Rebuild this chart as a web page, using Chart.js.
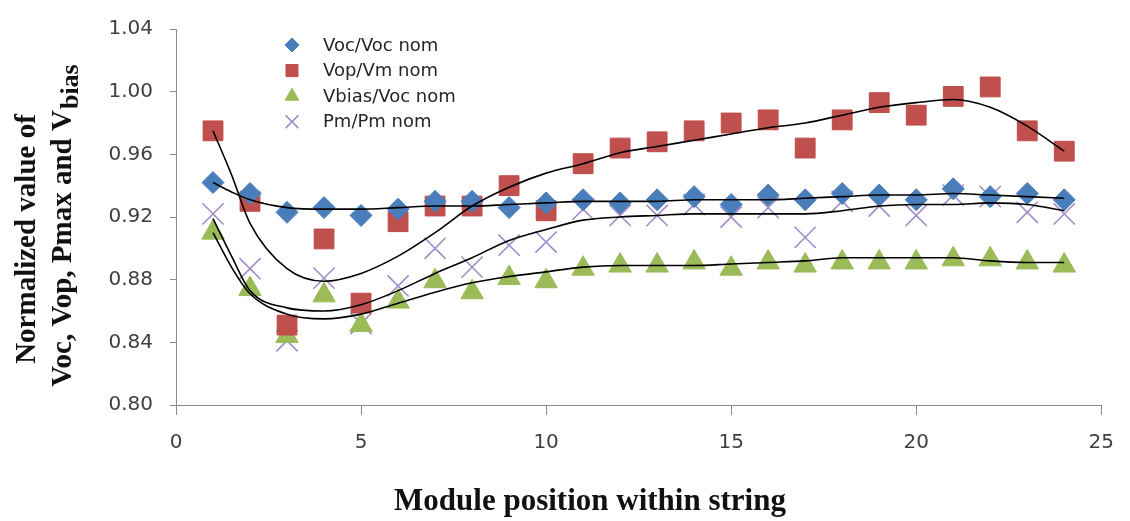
<!DOCTYPE html>
<html>
<head>
<meta charset="utf-8">
<title>Module position within string</title>
<script src="https://cdn.jsdelivr.net/npm/chart.js@4/dist/chart.umd.min.js"></script>
<style>
  html, body { margin: 0; padding: 0; background: #fff; }
  #wrap { width: 1130px; height: 521px; }
</style>
</head>
<body>
<div id="wrap"><canvas id="moduleChart" width="1130" height="521"></canvas></div>
<script>
// module position in the string
const modulePos = [1, 2, 3, 4, 5, 6, 7, 8, 9, 10, 11, 12, 13, 14, 15, 16, 17, 18, 19, 20, 21, 22, 23, 24];

// normalized measurements per module
const vocNorm   = [0.942, 0.935, 0.923, 0.926, 0.921, 0.925, 0.930, 0.930, 0.926, 0.929, 0.931, 0.929, 0.931, 0.933, 0.928, 0.934, 0.931, 0.935, 0.934, 0.931, 0.938, 0.933, 0.935, 0.931];
const vopNorm   = [0.975, 0.930, 0.851, 0.906, 0.865, 0.917, 0.927, 0.927, 0.940, 0.924, 0.954, 0.964, 0.968, 0.975, 0.980, 0.982, 0.964, 0.982, 0.993, 0.985, 0.997, 1.003, 0.975, 0.962];
const vbiasNorm = [0.910, 0.874, 0.844, 0.870, 0.851, 0.866, 0.879, 0.872, 0.881, 0.879, 0.887, 0.889, 0.889, 0.891, 0.887, 0.891, 0.889, 0.891, 0.891, 0.891, 0.893, 0.893, 0.891, 0.889];
const pmNorm    = [0.922, 0.887, 0.841, 0.881, 0.852, 0.876, 0.900, 0.888, 0.902, 0.904, 0.925, 0.921, 0.921, 0.928, 0.920, 0.926, 0.907, 0.930, 0.927, 0.921, 0.934, 0.933, 0.923, 0.922];

// polynomial trend lines
const fitPos   = [1, 1.5, 2, 3, 4, 5, 6, 7, 8, 9, 10, 11, 12, 13, 14, 15, 16, 17, 18, 19, 20, 21, 22, 23, 24];
const vocFit   = [0.942, 0.936, 0.931, 0.926, 0.925, 0.925, 0.926, 0.927, 0.927, 0.928, 0.929, 0.930, 0.930, 0.930, 0.931, 0.931, 0.931, 0.932, 0.933, 0.934, 0.934, 0.935, 0.934, 0.933, 0.932];
const vopFit   = [0.975, 0.947, 0.916, 0.887, 0.879, 0.884, 0.895, 0.910, 0.927, 0.939, 0.948, 0.954, 0.961, 0.965, 0.969, 0.973, 0.977, 0.980, 0.985, 0.990, 0.993, 0.995, 0.990, 0.978, 0.962];
const vbiasFit = [0.910, 0.888, 0.871, 0.858, 0.855, 0.858, 0.865, 0.872, 0.878, 0.882, 0.885, 0.888, 0.889, 0.889, 0.889, 0.890, 0.891, 0.892, 0.894, 0.894, 0.894, 0.894, 0.892, 0.891, 0.891];
const pmFit    = [0.919, 0.895, 0.873, 0.862, 0.860, 0.864, 0.873, 0.884, 0.894, 0.905, 0.912, 0.918, 0.920, 0.921, 0.922, 0.922, 0.922, 0.922, 0.924, 0.927, 0.928, 0.928, 0.929, 0.928, 0.924];

const xTicks = [0, 5, 10, 15, 20, 25];
const yTicks = [0.80, 0.84, 0.88, 0.92, 0.96, 1.00, 1.04];

const seriesNames = ['Voc/Voc nom', 'Vop/Vm nom', 'Vbias/Voc nom', 'Pm/Pm nom'];
const xTitle = 'Module position within string';
const yTitle1 = 'Normalized value of';
const yTitle2 = 'Voc, Vop, Pmax and V';
const yTitleSub = 'bias';

function pts(xs, ys) {
    return xs.map((x, i) => ({ x: x, y: ys[i] }));
}

function fitLine(ys) {
    return {
        data: pts(fitPos, ys),
        showLine: true,
        borderColor: '#000',
        borderWidth: 1.6,
        pointRadius: 0,
        cubicInterpolationMode: 'monotone',
        isFit: true
    };
}

// trend lines come first so they are painted over the markers
var datasets = [
    fitLine(vocFit),
    fitLine(vopFit),
    fitLine(vbiasFit),
    fitLine(pmFit),
    {
        label: seriesNames[0],
        data: pts(modulePos, vocNorm),
        pointStyle: 'rectRot',
        pointRadius: 11,
        backgroundColor: '#4A7EBB',
        borderColor: '#4A7EBB',
        borderWidth: 1,
        legendRadius: 7
    },
    {
        label: seriesNames[1],
        data: pts(modulePos, vopNorm),
        pointStyle: 'rect',
        pointRadius: 14,
        backgroundColor: '#C0504D',
        borderColor: '#BE4B48',
        borderWidth: 1,
        legendRadius: 8.5
    },
    {
        label: seriesNames[2],
        data: pts(modulePos, vbiasNorm),
        pointStyle: 'triangle',
        pointRadius: 13,
        backgroundColor: '#9BBB59',
        borderColor: '#9BBB59',
        borderWidth: 1,
        legendRadius: 8
    },
    {
        label: seriesNames[3],
        data: pts(modulePos, pmNorm),
        pointStyle: 'crossRot',
        pointRadius: 15,
        backgroundColor: '#A08CC8',
        borderColor: '#A08CC8',
        borderWidth: 1.6,
        legendRadius: 9
    }
];

// legend in the upper left of the plot
const legendPlugin = {
    id: 'cornerLegend',
    afterDraw(chart) {
        const ctx = chart.ctx;
        ctx.save();
        ctx.font = '18px "DejaVu Sans"';
        ctx.textBaseline = 'middle';
        ctx.textAlign = 'left';
        var row = 0;
        chart.data.datasets.forEach(ds => {
            if (ds.isFit) return;
            var y = 45 + row * 25.6;
            ctx.fillStyle = ds.backgroundColor;
            ctx.strokeStyle = ds.borderColor;
            ctx.lineWidth = ds.borderWidth;
            Chart.helpers.drawPoint(ctx, {
                pointStyle: ds.pointStyle,
                radius: ds.legendRadius,
                rotation: 0,
                borderWidth: ds.borderWidth
            }, 292, y);
            ctx.fillStyle = '#262626';
            ctx.fillText(ds.label, 323, y + 1);
            row++;
        });
        ctx.restore();
    }
};

// axis titles, the y one with a subscript
const titlePlugin = {
    id: 'axisTitles',
    afterDraw(chart) {
        const ctx = chart.ctx;
        ctx.save();
        ctx.fillStyle = '#111';
        ctx.font = 'bold 31px "Liberation Serif"';
        ctx.textAlign = 'center';
        ctx.textBaseline = 'alphabetic';
        ctx.fillText(xTitle, 590, 510);

        ctx.font = 'bold 29px "Liberation Serif"';
        ctx.save();
        ctx.translate(35, 239);
        ctx.rotate(-Math.PI / 2);
        ctx.fillText(yTitle1, 0, 0);
        ctx.restore();

        var mainW = ctx.measureText(yTitle2).width;
        ctx.font = 'bold 26px "Liberation Serif"';
        var subW = ctx.measureText(yTitleSub).width;
        ctx.translate(71, 226 + (mainW + subW) / 2);
        ctx.rotate(-Math.PI / 2);
        ctx.textAlign = 'left';
        ctx.font = 'bold 29px "Liberation Serif"';
        ctx.fillText(yTitle2, 0, 0);
        ctx.font = 'bold 26px "Liberation Serif"';
        ctx.fillText(yTitleSub, mainW + 1, 7);
        ctx.restore();
    }
};

const axisGray = '#8A8A8A';
const tickFont = { family: 'DejaVu Sans', size: 20 };

var ctx = document.getElementById('moduleChart').getContext('2d');
new Chart(ctx, {
    type: 'scatter',
    data: { datasets: datasets },
    options: {
        responsive: false,
        animation: false,
        layout: { padding: { top: 15, right: 27, left: 0, bottom: 0 } },
        plugins: {
            legend: { display: false },
            tooltip: { enabled: false }
        },
        scales: {
            x: {
                type: 'linear',
                min: 0,
                max: 25,
                afterBuildTicks: scale => { scale.ticks = xTicks.map(v => ({ value: v })); },
                afterFit: scale => { scale.height = 116; },
                grid: { drawOnChartArea: false, tickLength: 10, color: axisGray },
                border: { color: axisGray, width: 1 },
                ticks: { font: tickFont, color: '#404040', padding: 16, maxRotation: 0, autoSkip: false }
            },
            y: {
                type: 'linear',
                min: 0.80,
                max: 1.04,
                afterBuildTicks: scale => { scale.ticks = yTicks.map(v => ({ value: v })); },
                afterFit: scale => { scale.width = 176; },
                grid: { drawOnChartArea: false, tickLength: 6, color: axisGray },
                border: { color: axisGray, width: 1 },
                ticks: {
                    font: tickFont,
                    color: '#404040',
                    padding: 17,
                    autoSkip: false,
                    callback: v => Number(v).toFixed(2)
                }
            }
        }
    },
    plugins: [legendPlugin, titlePlugin]
});
</script>
</body>
</html>
